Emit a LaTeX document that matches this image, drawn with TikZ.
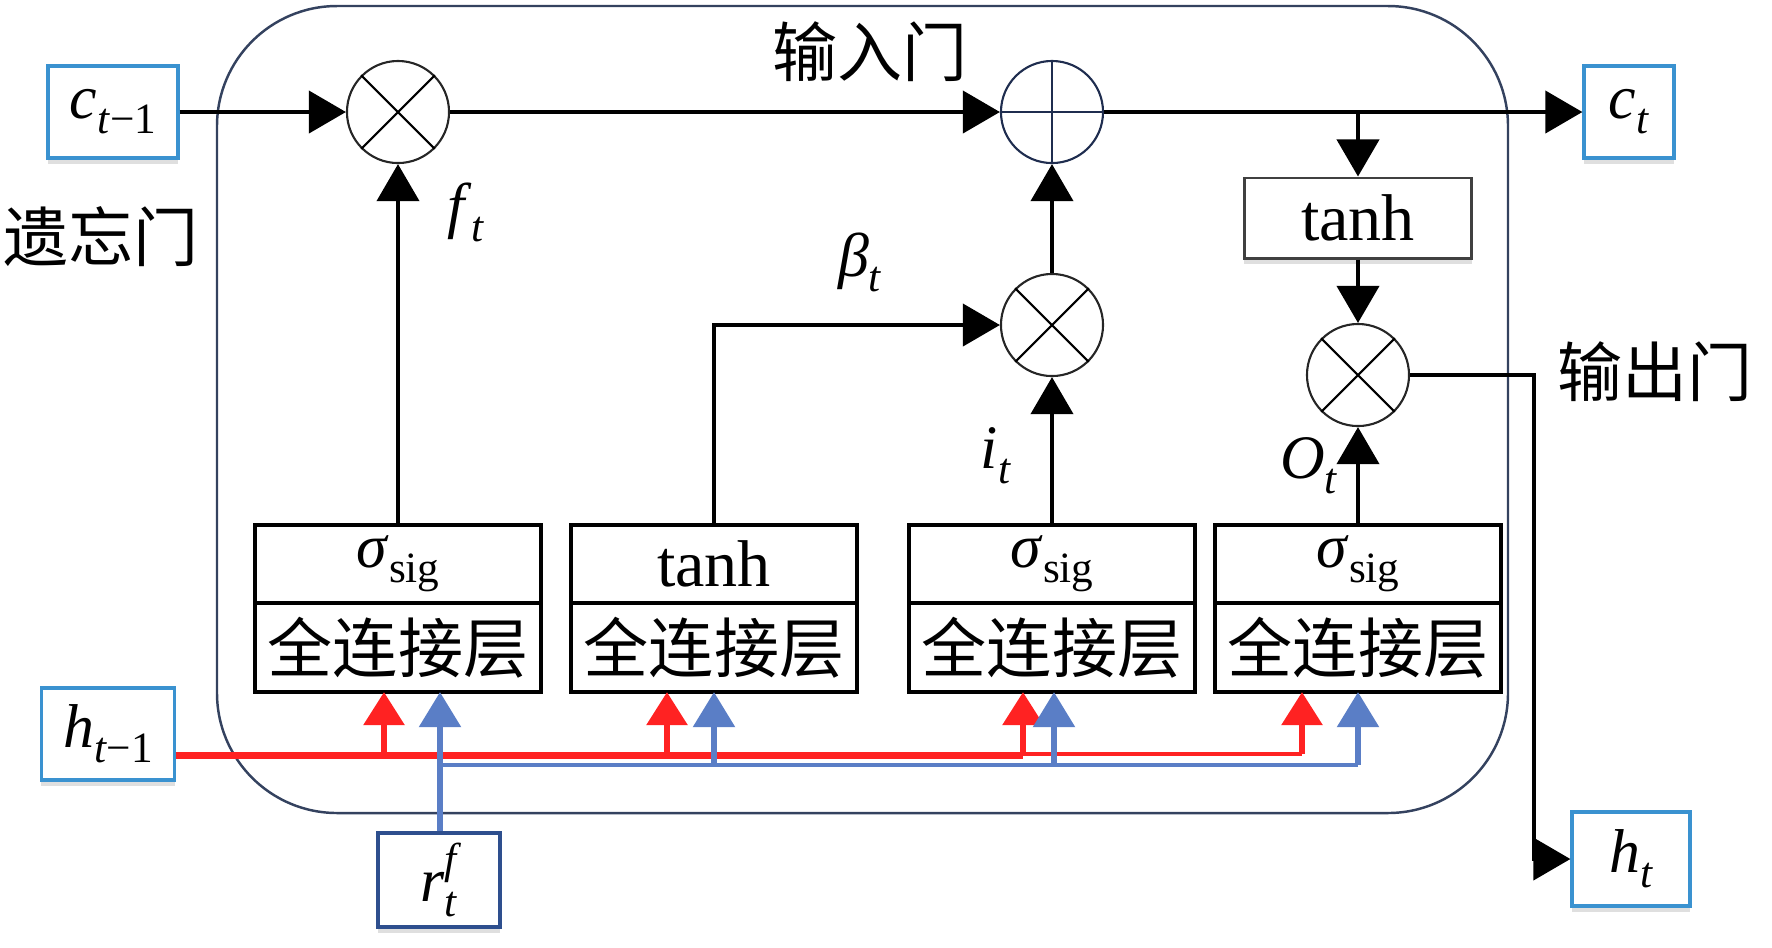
\documentclass[tikz,border=0pt]{standalone}
\usepackage{fontspec}
\setmainfont{Liberation Serif}
\newfontfamily\cjk{Noto Sans CJK SC}
\usetikzlibrary{arrows.meta,positioning,calc,shadows}
\definecolor{framec}{HTML}{34425F}
\definecolor{navyc}{HTML}{1F2D4F}
\definecolor{inblue}{HTML}{3A92D0}
\definecolor{rblue}{HTML}{2E4F8E}
\definecolor{redl}{HTML}{FF2222}
\definecolor{bluel}{HTML}{5A7EC6}
\newcommand{\txtfont}{\fontsize{17.6}{21}\selectfont}
\newcommand{\tanhfont}{\fontsize{18.8}{22}\selectfont}
\newcommand{\cjkfont}{\cjk\fontsize{18.5}{22}\selectfont}
\newcommand{\sub}[1]{\raisebox{-0.24em}{\fontsize{12.3}{12}\selectfont#1}}
\newcommand{\sig}{\textit{σ}\sub{sig}}

\begin{document}
\begin{tikzpicture}[x=0.01cm,y=-0.01cm,>={Triangle[length=0.37cm,width=0.42cm]},
 flow/.style={line width=1.15pt,->},
 opnode/.style={circle,draw=black!85,line width=0.6pt,minimum size=1.02cm,inner sep=0pt},
 iobox/.style={draw=inblue,line width=0.9pt,fill=white,inner sep=0pt,font=\txtfont,
  drop shadow={shadow xshift=0pt,shadow yshift=-1.6pt,opacity=.25}},
 actbox/.style={draw,line width=1.15pt,minimum width=2.85cm,minimum height=0.78cm,inner sep=0pt,outer sep=0pt,font=\txtfont},
 fcbox/.style={draw,line width=1.15pt,minimum width=2.85cm,minimum height=0.89cm,inner sep=0pt,outer sep=0pt,font=\cjkfont},
 varlbl/.style={font=\txtfont,inner sep=1pt},
 gatelbl/.style={font=\cjkfont,inner sep=1pt},
 redbus/.style={draw=redl,line width=2pt},
 redin/.style={redl,line width=1.7pt,-{Triangle[length=0.33cm,width=0.40cm]}},
 bluein/.style={bluel,line width=1.6pt,-{Triangle[length=0.35cm,width=0.41cm]}}]
\useasboundingbox (0,0) rectangle (1772,947);
\draw[framec,line width=0.7pt,rounded corners=1.2cm] (217,6) rectangle (1508,813);

% inputs and outputs
\node[iobox,minimum width=1.30cm,minimum height=0.92cm] (cprev) at (113,112) {\textit{c}\sub{\textit{t}−1}};
\node[iobox,minimum width=0.90cm,minimum height=0.92cm] (cnext) at (1629,112) {\textit{c}\sub{\textit{t}}};
\node[iobox,minimum width=1.33cm,minimum height=0.92cm] (hprev) at (108,734) {\textit{h}\sub{\textit{t}−1}};
\node[iobox,minimum width=1.18cm,minimum height=0.94cm] (hnext) at (1631,859) {\textit{h}\sub{\textit{t}}};
\node[iobox,draw=rblue,minimum width=1.22cm,minimum height=0.94cm] (rf) at (439,880)
 {\textit{r}\rlap{\raisebox{0.45em}{\fontsize{12.3}{12}\selectfont\textit{f}}}\sub{\textit{t}}};

% point-wise operations
\node[opnode] (m1) at (398,112) {};
\node[opnode,draw=navyc] (add) at (1052,112) {};
\node[opnode] (m2) at (1052,325) {};
\node[opnode] (m3) at (1358,375) {};
\foreach \m in {m1,m2,m3}{
 \draw[line width=0.6pt] (\m.north east) -- (\m.south west) (\m.north west) -- (\m.south east);}
\draw[navyc,line width=0.6pt] (add.north) -- (add.south) (add.west) -- (add.east);

\node[draw=black!75,line width=0.85pt,minimum width=2.27cm,minimum height=0.80cm,inner sep=0pt,font=\tanhfont,
 drop shadow={shadow xshift=0pt,shadow yshift=-1.6pt,opacity=.25},fill=white] (tc) at (1358,218) {tanh};

% layers
\foreach \n/\x/\t in {1/398/{\sig},2/714/{\tanhfont tanh},3/1052/{\sig},4/1358/{\sig}}{
 \node[actbox] (act\n) at (\x,564) {\t};
 \node[fcbox,below=0pt of act\n] (fc\n) {全连接层};}

% labels
\node[gatelbl] (lin) at (870,52) {输入门};
\node[gatelbl] (lforget) at (101,237) {遗忘门};
\node[gatelbl] (lout) at (1655,372) {输出门};
\node[varlbl] (lf) at (466,212) {\textit{f}\sub{\textit{t}}};
\node[varlbl] (lbeta) at (860,262) {\textit{β}\sub{\textit{t}}};
\node[varlbl] (li) at (996,456) {\textit{i}\sub{\textit{t}}};
\node[varlbl] (lo) at (1309,466) {\textit{O}\sub{\textit{t}}};

% black flow
\coordinate (split) at (1358,112);
\coordinate (hturn) at (1534,859);
\draw[flow] (cprev) -- (m1);
\draw[flow] (m1) -- (add);
\draw[flow] (add) -- (cnext);
\draw[flow] (split) -- (tc);
\draw[flow] (tc) -- (m3);
\draw[flow] (act1) -- (m1);
\draw[flow] (act2) |- (m2);
\draw[flow] (act3) -- (m2);
\draw[flow] (m2) -- (add);
\draw[flow] (act4) -- (m3);
\draw[flow] (m3) -| (hturn) -- (hnext);

% h_{t-1} and r_t^f feeds
\coordinate (rj1) at (384,755);
\coordinate (rj2) at (667,755);
\coordinate (rj3) at (1023,755);
\coordinate (rj4) at (1302,754);
\draw[redbus] (hprev.east |- rj1) -- (rj3);
\draw[draw=redl,line width=1pt] (rj3 |- rj4) -- (rj4);
\foreach \j/\b in {rj1/fc1,rj2/fc2,rj3/fc3,rj4/fc4}
 \draw[redin] (\j) -- (\j |- \b.south);
\coordinate (bj1) at (440,765);
\coordinate (bj2) at (714,765);
\coordinate (bj3) at (1054,765);
\coordinate (bj4) at (1358,765);
\draw[bluel,line width=1.4pt] (bj1) -- (bj4);
\draw[bluein] (rf.north -| bj1) -- (bj1 |- fc1.south);
\foreach \j/\b in {bj2/fc2,bj3/fc3,bj4/fc4}
 \draw[bluein] (\j) -- (\j |- \b.south);
\end{tikzpicture}
\end{document}
